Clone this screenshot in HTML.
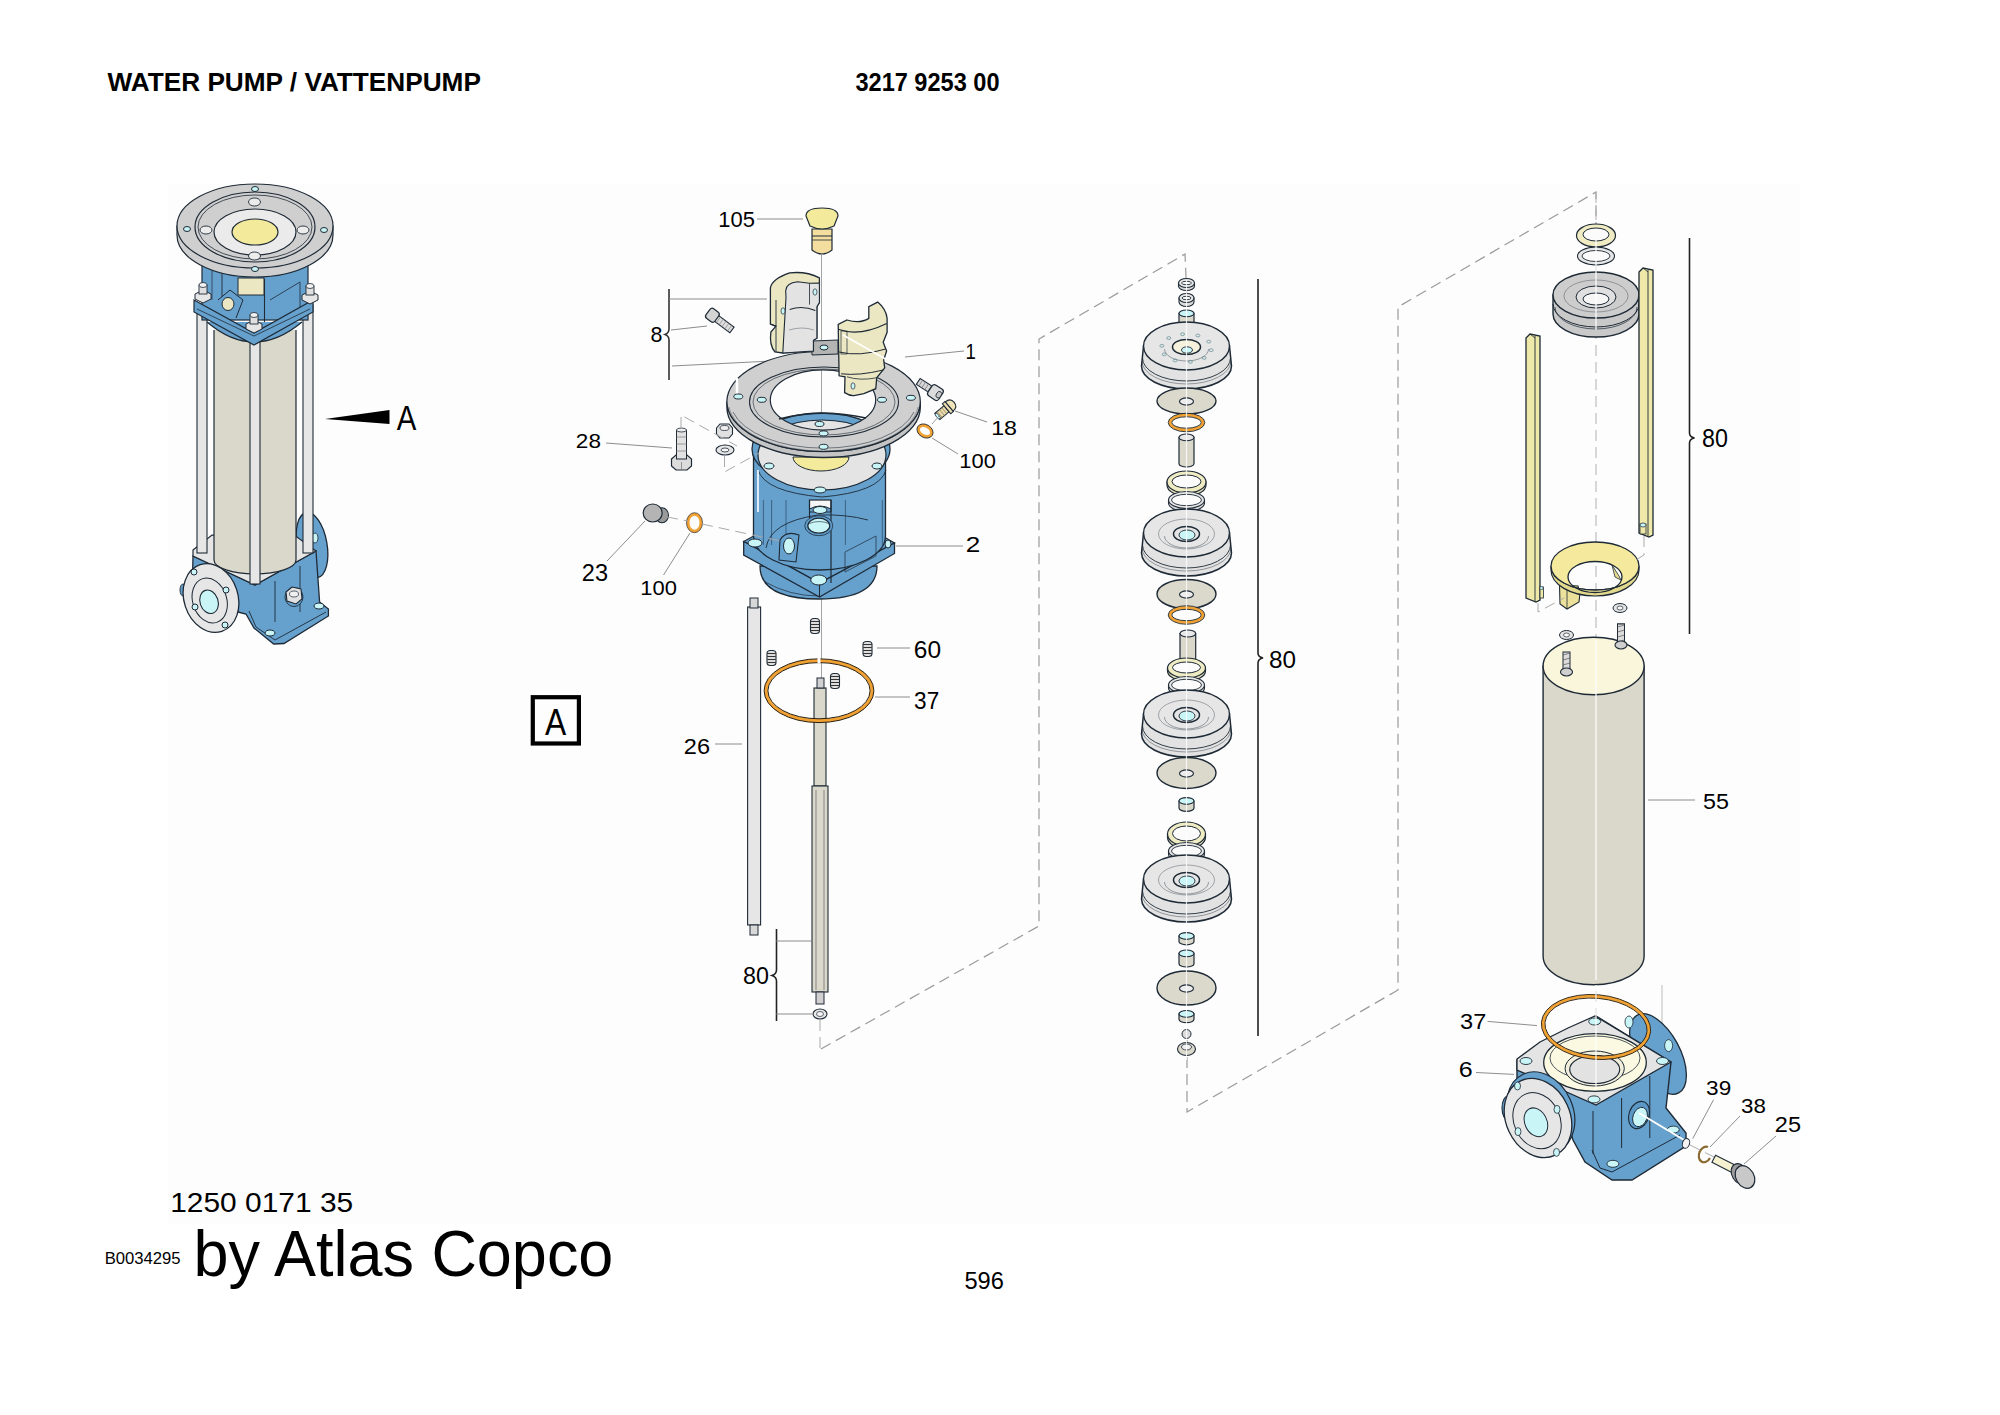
<!DOCTYPE html>
<html><head><meta charset="utf-8"><style>
html,body{margin:0;padding:0;background:#fff;}
body{width:2000px;height:1415px;overflow:hidden;position:relative;font-family:"Liberation Sans",sans-serif;}
svg{position:absolute;left:0;top:0;}
svg text{font-family:"Liberation Sans",sans-serif;fill:#000;}
</style></head><body>
<svg width="2000" height="1415" viewBox="0 0 2000 1415">
<rect x="168" y="184" width="1632" height="1040" fill="#fdfdfd"/>
<text transform="matrix(0.26195 0 0 0.25000 107.50 90.75)" font-size="100" font-weight="bold" >WATER PUMP / VATTENPUMP</text>
<text transform="matrix(0.23570 0 0 0.26056 855.43 90.74)" font-size="100" font-weight="bold" >3217 9253 00</text>
<text transform="matrix(0.29917 0 0 0.28451 170.21 1211.72)" font-size="100" font-weight="normal" >1250 0171 35</text>
<text transform="matrix(0.16667 0 0 0.16901 104.67 1264.43)" font-size="100" font-weight="normal" >B0034295</text>
<text transform="matrix(0.62973 0 0 0.64043 193.39 1275.55)" font-size="100" font-weight="normal" >by Atlas Copco</text>
<text transform="matrix(0.23671 0 0 0.24789 964.45 1289.35)" font-size="100" font-weight="normal" >596</text>
<polyline points="821,1049 1039,926 1039,339 1185,254 1187,300" fill="none" stroke="#9a9a9a" stroke-width="1.2" stroke-dasharray="11 6"/>
<polyline points="1187,1040 1187,1112 1398,990 1398,307 1596,192 1596,225" fill="none" stroke="#9a9a9a" stroke-width="1.2" stroke-dasharray="11 6"/>
<line x1="821.5" y1="255" x2="821.5" y2="680" stroke="#9a9a9a" stroke-width="0.9" />
<polyline points="820,1020 820,1049" fill="none" stroke="#aaaaaa" stroke-width="1" stroke-dasharray="11 6"/>
<g transform="rotate(-10 312 545)">
<ellipse cx="312" cy="545" rx="15" ry="33" fill="#66a1ce" stroke="#1e2a36" stroke-width="1.3" />
</g>
<ellipse cx="315" cy="538" rx="3" ry="5" fill="#c9f5f7" stroke="#1e2a36" stroke-width="0.8" />
<polygon points="193,556 192,600 238,612 246,614 254,628 273.7,644 284,643.5 328.4,616 328.4,609 319.6,602 316,551 255,585" fill="#66a1ce" stroke="#1e2a36" stroke-width="1.3" />
<polygon points="193,550 212,535 297,537 316,551 255,585 193,556" fill="#e6e6e6" stroke="#1e2a36" stroke-width="1.2" />
<path d="M249,611 L256,627 L275,640 L326,612" fill="none" stroke="#1e2a36" stroke-width="0.9" />
<line x1="275" y1="581" x2="275" y2="622" stroke="#1e2a36" stroke-width="0.9" />
<line x1="300" y1="566" x2="300" y2="612" stroke="#1e2a36" stroke-width="0.9" />
<ellipse cx="270" cy="633" rx="5" ry="3" fill="#c9f5f7" stroke="#1e2a36" stroke-width="1.0" />
<ellipse cx="319" cy="606" rx="5" ry="3" fill="#c9f5f7" stroke="#1e2a36" stroke-width="1.0" />
<ellipse cx="294" cy="597" rx="9" ry="9.5" fill="#66a1ce" stroke="#1e2a36" stroke-width="0.9" />
<polygon points="286,592 292,587 301,589 302,599 296,604 287,601" fill="#e2e2e2" stroke="#1e2a36" stroke-width="1.1" />
<ellipse cx="294" cy="594" rx="4.5" ry="3" fill="#f0f0f0" stroke="#1e2a36" stroke-width="0.7" />
<rect x="214" y="330" width="82" height="230" fill="#dad7cb" stroke="none" stroke-width="1.2" />
<path d="M214,330 L214,560 A41,14 0 0 0 296,560 L296,330" fill="#dad7cb" stroke="#1e2a36" stroke-width="1.2" />
<rect x="197" y="305" width="10" height="248" fill="#e6e6e6" stroke="#1e2a36" stroke-width="1.1" />
<rect x="303" y="305" width="10" height="248" fill="#e6e6e6" stroke="#1e2a36" stroke-width="1.1" />
<rect x="250" y="340" width="10" height="244" fill="#e6e6e6" stroke="#1e2a36" stroke-width="1.1" />
<ellipse cx="183" cy="590" rx="3" ry="6" fill="#66a1ce" stroke="#1e2a36" stroke-width="0.9" />
<g transform="rotate(-18 211 598)">
<ellipse cx="211" cy="598" rx="27" ry="35" fill="#e6e6e6" stroke="#1e2a36" stroke-width="1.3" />
<ellipse cx="209" cy="600" rx="17" ry="23" fill="none" stroke="#1e2a36" stroke-width="1" />
<ellipse cx="208" cy="601" rx="9" ry="12" fill="#c9f5f7" stroke="#1e2a36" stroke-width="1.1" />
</g>
<ellipse cx="194" cy="572" rx="3" ry="3" fill="#c9f5f7" stroke="#1e2a36" stroke-width="1.0" />
<ellipse cx="226" cy="590" rx="3" ry="3" fill="#c9f5f7" stroke="#1e2a36" stroke-width="1.0" />
<ellipse cx="195" cy="607" rx="3" ry="3" fill="#c9f5f7" stroke="#1e2a36" stroke-width="1.0" />
<ellipse cx="225" cy="625" rx="3" ry="3" fill="#c9f5f7" stroke="#1e2a36" stroke-width="1.0" />
<rect x="202" y="262" width="106" height="58" fill="#66a1ce" stroke="#1e2a36" stroke-width="1.2" />
<line x1="212" y1="268" x2="212" y2="300" stroke="#1e2a36" stroke-width="0.7" />
<line x1="222" y1="266" x2="222" y2="300" stroke="#1e2a36" stroke-width="0.9" />
<line x1="264.5" y1="279" x2="264.5" y2="330" stroke="#1e2a36" stroke-width="1.1" />
<path d="M270,300 L300,282 L300,316" fill="none" stroke="#1e2a36" stroke-width="0.8" />
<rect x="238" y="278" width="26" height="17" fill="#ebe7c2" stroke="#1e2a36" stroke-width="1" />
<path d="M207,322 Q254,362 302,322" fill="#66a1ce" stroke="#1e2a36" stroke-width="1.2" />
<polygon points="194,300 194,312 254,345 313,312 313,300 254,333" fill="#66a1ce" stroke="#1e2a36" stroke-width="1.2" />
<path d="M197,309 L254,336 L310,309" fill="none" stroke="#1e2a36" stroke-width="0.8" />
<path d="M218,300 L230,290 L243,300 L236,318" fill="#66a1ce" stroke="#1e2a36" stroke-width="1" />
<ellipse cx="228" cy="304" rx="6" ry="6.5" fill="#ebe7c2" stroke="#1e2a36" stroke-width="1" />
<polygon points="195,299 195,294 203,290 211,294 211,299 203,303" fill="#e6e6e6" stroke="#1e2a36" stroke-width="1" />
<rect x="199" y="285" width="8" height="9" fill="#e0e0e0" stroke="#1e2a36" stroke-width="0.9" />
<ellipse cx="203" cy="285" rx="4" ry="2.5" fill="#f2f2f2" stroke="#1e2a36" stroke-width="0.8" />
<polygon points="246,329 246,324 254,320 262,324 262,329 254,333" fill="#e6e6e6" stroke="#1e2a36" stroke-width="1" />
<rect x="250" y="315" width="8" height="9" fill="#e0e0e0" stroke="#1e2a36" stroke-width="0.9" />
<ellipse cx="254" cy="315" rx="4" ry="2.5" fill="#f2f2f2" stroke="#1e2a36" stroke-width="0.8" />
<polygon points="302,300 302,295 310,291 318,295 318,300 310,304" fill="#e6e6e6" stroke="#1e2a36" stroke-width="1" />
<rect x="306" y="286" width="8" height="9" fill="#e0e0e0" stroke="#1e2a36" stroke-width="0.9" />
<ellipse cx="310" cy="286" rx="4" ry="2.5" fill="#f2f2f2" stroke="#1e2a36" stroke-width="0.8" />
<path d="M177,226 L177,235 A78,42 0 0 0 333,235 L333,226 Z" fill="#cfcfcf" stroke="#1e2a36" stroke-width="1.2" />
<ellipse cx="255" cy="226" rx="78" ry="42" fill="#cfcfcf" stroke="#1e2a36" stroke-width="1.2" />
<ellipse cx="255" cy="227" rx="60" ry="35" fill="#cfcfcf" stroke="#1e2a36" stroke-width="1.2" />
<ellipse cx="255" cy="227" rx="57" ry="32" fill="none" stroke="#1e2a36" stroke-width="0.8" />
<ellipse cx="255" cy="232" rx="41" ry="23" fill="#ebebeb" stroke="#1e2a36" stroke-width="1.2" />
<ellipse cx="255" cy="232" rx="23" ry="13" fill="#f3ea9c" stroke="#1e2a36" stroke-width="1.2" />
<ellipse cx="255" cy="189" rx="3.5" ry="2.5" fill="#c9f5f7" stroke="#1e2a36" stroke-width="1.0" />
<ellipse cx="187" cy="229" rx="3.5" ry="2.5" fill="#c9f5f7" stroke="#1e2a36" stroke-width="1.0" />
<ellipse cx="324" cy="230" rx="3.5" ry="2.5" fill="#c9f5f7" stroke="#1e2a36" stroke-width="1.0" />
<ellipse cx="255" cy="269" rx="3.5" ry="2.5" fill="#c9f5f7" stroke="#1e2a36" stroke-width="1.0" />
<ellipse cx="254.5" cy="202" rx="6" ry="4" fill="#ececec" stroke="#1e2a36" stroke-width="0.9" />
<ellipse cx="206" cy="230" rx="6" ry="4" fill="#ececec" stroke="#1e2a36" stroke-width="0.9" />
<ellipse cx="303" cy="230" rx="6" ry="4" fill="#ececec" stroke="#1e2a36" stroke-width="0.9" />
<ellipse cx="254.5" cy="256" rx="6" ry="4" fill="#ececec" stroke="#1e2a36" stroke-width="0.9" />
<polygon points="325,419 389.5,410 389.5,424" fill="#000" stroke="none" stroke-width="1.2" />
<text transform="matrix(0.29394 0 0 0.34203 396.70 429.70)" font-size="100" font-weight="normal" >A</text>
<path d="M812,229 L812,250 Q822,258 832,250 L832,229 Z" fill="#f3dea0" stroke="#1e2a36" stroke-width="1.2" />
<line x1="812" y1="236" x2="832" y2="236" stroke="#1e2a36" stroke-width="1" />
<line x1="812" y1="240" x2="832" y2="240" stroke="#1e2a36" stroke-width="0.8" />
<path d="M806,216 Q806,208 822,208 Q838,208 838,216 L834,226 Q822,232 810,226 Z" fill="#f3ea9c" stroke="#1e2a36" stroke-width="1.2" />
<text transform="matrix(0.21935 0 0 0.22535 718.25 226.77)" font-size="100" font-weight="normal" >105</text>
<polyline points="757,219 803,219" fill="none" stroke="#808080" stroke-width="0.9"/>
<g transform="rotate(37 720 321)">
<rect x="713" y="317.5" width="22" height="7" fill="#dedede" stroke="#1e2a36" stroke-width="1.1" />
<line x1="718.0" y1="317.5" x2="718.0" y2="324.5" stroke="#888" stroke-width="0.7" />
<line x1="721.5" y1="317.5" x2="721.5" y2="324.5" stroke="#888" stroke-width="0.7" />
<line x1="725.0" y1="317.5" x2="725.0" y2="324.5" stroke="#888" stroke-width="0.7" />
<line x1="728.5" y1="317.5" x2="728.5" y2="324.5" stroke="#888" stroke-width="0.7" />
<line x1="732.0" y1="317.5" x2="732.0" y2="324.5" stroke="#888" stroke-width="0.7" />
<rect x="705" y="315" width="11" height="12" fill="#d4d4d4" stroke="#1e2a36" stroke-width="1.2" rx="3" ry="3"/>
</g>
<path d="M669,289 L669,329 Q669,333 665,334.5 Q669,336 669,340 L669,380" fill="none" stroke="#333" stroke-width="1.6" />
<polyline points="669,299 767,299" fill="none" stroke="#808080" stroke-width="0.9"/>
<polyline points="672,366 812,359" fill="none" stroke="#808080" stroke-width="0.9"/>
<polyline points="671,330 707,326" fill="none" stroke="#808080" stroke-width="0.9"/>
<text transform="matrix(0.21489 0 0 0.22535 650.44 341.97)" font-size="100" font-weight="normal" >8</text>
<path d="M760,566 Q760,599 819,599 Q877,599 877,566 Z" fill="#66a1ce" stroke="#1e2a36" stroke-width="1.3" />
<path d="M765,582 Q790,596 819,596" fill="none" stroke="#1e2a36" stroke-width="0.7" />
<polygon points="743.7,541.5 819.5,500 894.5,543 819.5,583" fill="#66a1ce" stroke="#1e2a36" stroke-width="1.2" />
<polygon points="743.7,541.5 819.5,583 894.5,543 894.5,553.5 819.5,597 743.7,555" fill="#66a1ce" stroke="#1e2a36" stroke-width="1.3" />
<line x1="819.5" y1="583" x2="819.5" y2="597" stroke="#1e2a36" stroke-width="1.1" />
<path d="M753.5,449 L753.5,536 A66,34 0 0 0 885.5,536 L885.5,449 Z" fill="#66a1ce" stroke="#1e2a36" stroke-width="1.3" />
<ellipse cx="821" cy="449" rx="69" ry="36" fill="#66a1ce" stroke="#1e2a36" stroke-width="1.3" />
<ellipse cx="822" cy="455" rx="64" ry="35" fill="#e4e4e4" stroke="#1e2a36" stroke-width="1.2" />
<path d="M793,457 A28,14 0 0 0 849,457 Z" fill="#f3ea9c" stroke="#1e2a36" stroke-width="1" />
<ellipse cx="769" cy="466" rx="5" ry="3" fill="#c9f5f7" stroke="#1e2a36" stroke-width="1.0" />
<ellipse cx="877" cy="466" rx="5" ry="3" fill="#c9f5f7" stroke="#1e2a36" stroke-width="1.0" />
<ellipse cx="820" cy="490" rx="6" ry="3" fill="#c9f5f7" stroke="#1e2a36" stroke-width="1.0" />
<path d="M758,470 Q765,492 822,497 Q880,492 886,470" fill="none" stroke="#1e2a36" stroke-width="0.9" />
<rect x="809.5" y="500" width="21.5" height="9" fill="#f6f6f6" stroke="#1e2a36" stroke-width="1.2" />
<path d="M809.5,509 Q820,503 831,509 L831,512 L809.5,512 Z" fill="#66a1ce" stroke="#1e2a36" stroke-width="1" />
<ellipse cx="820" cy="510" rx="7" ry="3.5" fill="#c9f5f7" stroke="#1e2a36" stroke-width="1.0" />
<line x1="763.4" y1="500" x2="763.4" y2="545" stroke="#2a4662" stroke-width="0.7" />
<line x1="771.6" y1="500" x2="771.6" y2="545" stroke="#2a4662" stroke-width="0.7" />
<line x1="786" y1="500" x2="786" y2="545" stroke="#2a4662" stroke-width="0.7" />
<line x1="845.4" y1="500" x2="845.4" y2="545" stroke="#2a4662" stroke-width="0.7" />
<line x1="882.3" y1="500" x2="882.3" y2="545" stroke="#2a4662" stroke-width="0.7" />
<line x1="809.5" y1="500" x2="809.5" y2="520" stroke="#1e2a36" stroke-width="1.1" />
<line x1="831" y1="500" x2="831" y2="583" stroke="#1e2a36" stroke-width="1.2" />
<path d="M766,548 Q770,522 818,515 Q846,514 868,520" fill="none" stroke="#1e2a36" stroke-width="0.9" />
<ellipse cx="818.8" cy="525.7" rx="14" ry="10" fill="#5f9dcd" stroke="#1e2a36" stroke-width="0.8" />
<ellipse cx="818.8" cy="525.7" rx="11" ry="7.5" fill="#c9f5f7" stroke="#1e2a36" stroke-width="1.2" />
<path d="M808,524 Q819,519 830,524" fill="none" stroke="#1e2a36" stroke-width="0.6" />
<path d="M779,560 L780,540 Q786,530 799,535 L796,562 Z" fill="#66a1ce" stroke="#1e2a36" stroke-width="1.1" />
<ellipse cx="789" cy="546" rx="5.5" ry="8" fill="#c9f5f7" stroke="#1e2a36" stroke-width="1.0" />
<ellipse cx="755" cy="543" rx="7" ry="4" fill="#c9f5f7" stroke="#1e2a36" stroke-width="1.0" />
<ellipse cx="818.7" cy="580" rx="8" ry="5" fill="#c9f5f7" stroke="#1e2a36" stroke-width="1.0" />
<ellipse cx="888" cy="544" rx="3" ry="4" fill="#c9f5f7" stroke="#1e2a36" stroke-width="1.0" />
<path d="M845,572 L845,552 L876,536 L876,556 Z" fill="none" stroke="#1e2a36" stroke-width="0.7" />
<line x1="758" y1="470" x2="758" y2="512" stroke="#ffffff" stroke-width="2" stroke-opacity="0.8"/>
<text transform="matrix(0.26087 0 0 0.21429 965.70 552.00)" font-size="100" font-weight="normal" >2</text>
<polyline points="896,546 963,546" fill="none" stroke="#808080" stroke-width="0.9"/>
<path d="M726.9,401.5 A96.7,50 0 0 0 920.3,401.5 L920.3,407.5 A96.7,50 0 0 1 726.9,407.5 Z" fill="#c4c4c4" stroke="#1e2a36" stroke-width="1.3" />
<path d="M726.9,401.5 A96.7,50 0 1 0 920.3,401.5 A96.7,50 0 1 0 726.9,401.5 Z M770.3,400 A52.7,30 0 1 1 875.7,400 A52.7,30 0 1 1 770.3,400 Z" fill="#cfcfcf" stroke="#1e2a36" stroke-width="1.2" fill-rule="evenodd"/>
<path d="M733,412 A93,47 0 0 0 914,412" fill="none" stroke="#1e2a36" stroke-width="0.7" stroke-opacity="0.8"/>
<path d="M729,407 A95,49 0 0 0 918,407" fill="none" stroke="#1e2a36" stroke-width="0.6" stroke-opacity="0.6"/>
<ellipse cx="824" cy="402" rx="74.5" ry="35" fill="none" stroke="#1e2a36" stroke-width="1.1" />
<polygon points="812,341 838,340 838,354 812,355" fill="#b4b4b4" stroke="#1e2a36" stroke-width="1.0" />
<ellipse cx="824" cy="347.5" rx="4" ry="2.5" fill="#c9f5f7" stroke="#1e2a36" stroke-width="1.0" />
<line x1="737" y1="378" x2="737" y2="396" stroke="#ffffff" stroke-width="2.5" />
<ellipse cx="824" cy="402" rx="71" ry="33" fill="none" stroke="#1e2a36" stroke-width="0.6" />
<ellipse cx="738.3" cy="396.5" rx="4.5" ry="2.5" fill="#c9f5f7" stroke="#1e2a36" stroke-width="1.0" />
<ellipse cx="761.8" cy="399.8" rx="4.5" ry="2.5" fill="#c9f5f7" stroke="#1e2a36" stroke-width="1.0" />
<ellipse cx="819.5" cy="424" rx="4.5" ry="2.5" fill="#c9f5f7" stroke="#1e2a36" stroke-width="1.0" />
<ellipse cx="823.6" cy="433.4" rx="4.5" ry="2.5" fill="#c9f5f7" stroke="#1e2a36" stroke-width="1.0" />
<ellipse cx="823.6" cy="446.8" rx="4.5" ry="2.5" fill="#c9f5f7" stroke="#1e2a36" stroke-width="1.0" />
<ellipse cx="882" cy="399.8" rx="4.5" ry="2.5" fill="#c9f5f7" stroke="#1e2a36" stroke-width="1.0" />
<ellipse cx="910.9" cy="397.8" rx="4.5" ry="2.5" fill="#c9f5f7" stroke="#1e2a36" stroke-width="1.0" />
<path d="M779,419 Q821,408 866,418" fill="none" stroke="#1e2a36" stroke-width="1.4" />
<path d="M770.4,300 L770.4,287.8 Q772,279 789.7,272.9 Q806,271 819.4,277.9 L819.4,302.6 L816.9,306.6 L816.9,338.2 L813.4,340.2 L813.4,351 L782.8,353 L775,352 Q769,345 770.9,332 L775.8,326.3 L770.4,324 Z" fill="#ebe7c2" stroke="#1e2a36" stroke-width="1.3" />
<path d="M786,297.6 L785.7,290.7 Q786,283 797.6,281.8 L809.5,283.3 L819.4,283 L819.4,302.6 L816.9,306.6 L816.9,338.2 L813.4,340.2 L813.4,351 L782.8,353 Z" fill="#e3e3e3" stroke="#1e2a36" stroke-width="1.1" />
<path d="M789.7,309.5 Q802,305 815.4,310.5" fill="none" stroke="#1e2a36" stroke-width="1.1" />
<path d="M789,330 Q802,326 814,330" fill="none" stroke="#1e2a36" stroke-width="0.6" stroke-opacity="0.6"/>
<line x1="809.5" y1="283.3" x2="809.5" y2="304.6" stroke="#1e2a36" stroke-width="0.8" />
<line x1="776" y1="300" x2="776" y2="352" stroke="#1e2a36" stroke-width="0.9" />
<path d="M770.4,324 L776,326" fill="none" stroke="#1e2a36" stroke-width="1" />
<ellipse cx="783" cy="311" rx="2" ry="3.2" fill="#c9f5f7" stroke="#1e2a36" stroke-width="0.7" />
<ellipse cx="815" cy="292" rx="2" ry="3.2" fill="#c9f5f7" stroke="#1e2a36" stroke-width="0.7" />
<path d="M838.2,324.4 L839.1,375.8 L845,376.8 L844.6,392.6 Q850,396 854,395.6 L863.9,393.6 L875.8,388.7 L876.7,377.8 L884.7,367.9 L883.7,360 L886.6,351 L883.2,342.2 L887.1,332.3 L887.1,318.4 Q886,309 877.7,302.1 L868.8,306.6 L868.8,318.4 Q860,324 847,320 Z" fill="#ebe7c2" stroke="#1e2a36" stroke-width="1.3" />
<path d="M838.2,329.3 Q859,337 886.7,323.4" fill="none" stroke="#1e2a36" stroke-width="1.1" />
<path d="M839.1,352 Q859,357 885.7,349" fill="none" stroke="#1e2a36" stroke-width="1.0" />
<path d="M841.1,373.8 Q859,376 883.7,369.9" fill="none" stroke="#1e2a36" stroke-width="1.0" />
<rect x="841" y="331" width="6" height="23" fill="none" stroke="#1e2a36" stroke-width="0.7" />
<path d="M847,376.8 Q860,381 876.7,377.8" fill="none" stroke="#1e2a36" stroke-width="0.8" />
<ellipse cx="853" cy="386" rx="2" ry="3.2" fill="#c9f5f7" stroke="#1e2a36" stroke-width="0.7" />
<line x1="843" y1="335" x2="905" y2="370" stroke="#ffffff" stroke-width="1.6" />
<g transform="rotate(33 930 389)">
<rect x="916" y="385.5" width="16" height="7" fill="#d8d8d8" stroke="#1e2a36" stroke-width="1.1" />
<line x1="919.0" y1="385.5" x2="919.0" y2="392.5" stroke="#777" stroke-width="0.7" />
<line x1="922.5" y1="385.5" x2="922.5" y2="392.5" stroke="#777" stroke-width="0.7" />
<line x1="926.0" y1="385.5" x2="926.0" y2="392.5" stroke="#777" stroke-width="0.7" />
<line x1="929.5" y1="385.5" x2="929.5" y2="392.5" stroke="#777" stroke-width="0.7" />
<rect x="930" y="382.5" width="13" height="13" fill="#dcdcdc" stroke="#1e2a36" stroke-width="1.2" rx="3" ry="3"/>
<ellipse cx="940.5" cy="389" rx="2.5" ry="3.5" fill="#c8c8c8" stroke="#1e2a36" stroke-width="0.8" />
</g>
<text transform="matrix(0.18605 0 0 0.21739 965.51 359.00)" font-size="100" font-weight="normal" >1</text>
<polyline points="905,357 964,351" fill="none" stroke="#808080" stroke-width="0.9"/>
<g transform="rotate(-40 945 410)">
<rect x="935" y="406" width="12" height="8" fill="#eadcae" stroke="#1e2a36" stroke-width="1.1" />
<line x1="938" y1="406" x2="938" y2="414" stroke="#8a7a50" stroke-width="0.7" />
<line x1="941" y1="406" x2="941" y2="414" stroke="#8a7a50" stroke-width="0.7" />
<line x1="944" y1="406" x2="944" y2="414" stroke="#8a7a50" stroke-width="0.7" />
<rect x="947" y="403.5" width="3.5" height="13" fill="#eadcae" stroke="#1e2a36" stroke-width="1.0" />
<path d="M950.5,404 Q957,404 957,410 Q957,416 950.5,416 Z" fill="#efe3b8" stroke="#1e2a36" stroke-width="1.1" />
<ellipse cx="935.5" cy="410" rx="1.5" ry="3.5" fill="#c9f5f7" stroke="#1e2a36" stroke-width="0.7" />
</g>
<line x1="932" y1="424" x2="939" y2="416" stroke="#888" stroke-width="0.8" />
<text transform="matrix(0.23232 0 0 0.21127 991.14 434.79)" font-size="100" font-weight="normal" >18</text>
<polyline points="955,411 987,422" fill="none" stroke="#808080" stroke-width="0.9"/>
<ellipse cx="925" cy="431" rx="7" ry="5" fill="none" stroke="#f0a132" stroke-width="3" transform="rotate(30 925 431)"/>
<ellipse cx="925" cy="431" rx="8.5" ry="6.5" fill="none" stroke="#1e2a36" stroke-width="0.8" transform="rotate(30 925 431)"/>
<text transform="matrix(0.21935 0 0 0.21127 959.25 467.79)" font-size="100" font-weight="normal" >100</text>
<polyline points="932,438 958,454" fill="none" stroke="#808080" stroke-width="0.9"/>
<polygon points="671.5,459 676,455 687,455 691.5,459 691.5,466 687,470 676,470 671.5,466" fill="#dcdcdc" stroke="#1e2a36" stroke-width="1.2" />
<line x1="681.5" y1="462" x2="681.5" y2="470" stroke="#777" stroke-width="0.7" />
<rect x="676.5" y="430" width="10" height="29" fill="#e2e2e2" stroke="#1e2a36" stroke-width="1" />
<line x1="676.5" y1="437" x2="686.5" y2="437" stroke="#888" stroke-width="0.8" />
<line x1="676.5" y1="444" x2="686.5" y2="444" stroke="#888" stroke-width="0.8" />
<line x1="676.5" y1="451" x2="686.5" y2="451" stroke="#888" stroke-width="0.8" />
<ellipse cx="681.5" cy="430" rx="5" ry="2" fill="#eee" stroke="#1e2a36" stroke-width="0.8" />
<text transform="matrix(0.22549 0 0 0.21127 575.87 447.79)" font-size="100" font-weight="normal" >28</text>
<polyline points="606,443 672,448" fill="none" stroke="#808080" stroke-width="0.9"/>
<polygon points="716.5,428 720,424 729,424 732.5,428 732.5,434 729,438 720,438 716.5,434" fill="#e0e0e0" stroke="#1e2a36" stroke-width="1.1" />
<ellipse cx="724.5" cy="428" rx="4.5" ry="2.5" fill="#f0f0f0" stroke="#1e2a36" stroke-width="0.8" />
<ellipse cx="725" cy="450" rx="9" ry="5" fill="#e6e6e6" stroke="#1e2a36" stroke-width="1.1" />
<ellipse cx="725" cy="450" rx="4" ry="2" fill="#f6f6f6" stroke="#1e2a36" stroke-width="0.8" />
<polyline points="681,428 681,415 737,446" fill="none" stroke="#aaa" stroke-width="1" stroke-dasharray="11 6"/>
<polyline points="724.5,456 724.5,472 759,453" fill="none" stroke="#aaa" stroke-width="1" stroke-dasharray="11 6"/>
<ellipse cx="662" cy="515.3" rx="6.5" ry="7.5" fill="#9a9a9a" stroke="#1e2a36" stroke-width="1.1" />
<ellipse cx="652.7" cy="513" rx="9.5" ry="9" fill="#b4b4b4" stroke="#1e2a36" stroke-width="1.2" />
<text transform="matrix(0.23529 0 0 0.23944 581.82 580.76)" font-size="100" font-weight="normal" >23</text>
<polyline points="607,561 645,521" fill="none" stroke="#808080" stroke-width="0.9"/>
<ellipse cx="694.5" cy="522.7" rx="6.5" ry="8.5" fill="none" stroke="#f0a132" stroke-width="3" />
<ellipse cx="694.5" cy="522.7" rx="8" ry="10" fill="none" stroke="#1e2a36" stroke-width="0.7" />
<text transform="matrix(0.21935 0 0 0.21127 640.25 594.79)" font-size="100" font-weight="normal" >100</text>
<polyline points="663.5,575 690,533" fill="none" stroke="#808080" stroke-width="0.9"/>
<polyline points="667,517 688,521" fill="none" stroke="#aaa" stroke-width="1" stroke-dasharray="11 6"/>
<polyline points="702,524 785,542" fill="none" stroke="#aaa" stroke-width="1" stroke-dasharray="11 6"/>
<rect x="747.6" y="607" width="13" height="318" fill="#e6e6e6" stroke="#1e2a36" stroke-width="1.1" />
<rect x="750" y="598" width="8" height="10" fill="#d8d8d8" stroke="#1e2a36" stroke-width="1" />
<rect x="750" y="925" width="8" height="10" fill="#d8d8d8" stroke="#1e2a36" stroke-width="1" />
<text transform="matrix(0.23529 0 0 0.22535 683.82 753.77)" font-size="100" font-weight="normal" >26</text>
<polyline points="715,744 742,744" fill="none" stroke="#808080" stroke-width="0.9"/>
<rect x="810.5" y="618.5" width="9" height="15" fill="#e6e6e6" stroke="#1e2a36" stroke-width="1.1" rx="3.5" ry="3"/>
<line x1="810.7" y1="621.5" x2="819.3" y2="621.5" stroke="#333" stroke-width="1.1" />
<line x1="810.7" y1="624.5" x2="819.3" y2="624.5" stroke="#333" stroke-width="1.1" />
<line x1="810.7" y1="627.5" x2="819.3" y2="627.5" stroke="#333" stroke-width="1.1" />
<line x1="810.7" y1="630.5" x2="819.3" y2="630.5" stroke="#333" stroke-width="1.1" />
<rect x="767.0" y="650.5" width="9" height="15" fill="#e6e6e6" stroke="#1e2a36" stroke-width="1.1" rx="3.5" ry="3"/>
<line x1="767.2" y1="653.5" x2="775.8" y2="653.5" stroke="#333" stroke-width="1.1" />
<line x1="767.2" y1="656.5" x2="775.8" y2="656.5" stroke="#333" stroke-width="1.1" />
<line x1="767.2" y1="659.5" x2="775.8" y2="659.5" stroke="#333" stroke-width="1.1" />
<line x1="767.2" y1="662.5" x2="775.8" y2="662.5" stroke="#333" stroke-width="1.1" />
<rect x="863.0" y="641.5" width="9" height="15" fill="#e6e6e6" stroke="#1e2a36" stroke-width="1.1" rx="3.5" ry="3"/>
<line x1="863.2" y1="644.5" x2="871.8" y2="644.5" stroke="#333" stroke-width="1.1" />
<line x1="863.2" y1="647.5" x2="871.8" y2="647.5" stroke="#333" stroke-width="1.1" />
<line x1="863.2" y1="650.5" x2="871.8" y2="650.5" stroke="#333" stroke-width="1.1" />
<line x1="863.2" y1="653.5" x2="871.8" y2="653.5" stroke="#333" stroke-width="1.1" />
<rect x="830.5" y="673.5" width="9" height="15" fill="#e6e6e6" stroke="#1e2a36" stroke-width="1.1" rx="3.5" ry="3"/>
<line x1="830.7" y1="676.5" x2="839.3" y2="676.5" stroke="#333" stroke-width="1.1" />
<line x1="830.7" y1="679.5" x2="839.3" y2="679.5" stroke="#333" stroke-width="1.1" />
<line x1="830.7" y1="682.5" x2="839.3" y2="682.5" stroke="#333" stroke-width="1.1" />
<line x1="830.7" y1="685.5" x2="839.3" y2="685.5" stroke="#333" stroke-width="1.1" />
<text transform="matrix(0.24510 0 0 0.23944 913.77 657.76)" font-size="100" font-weight="normal" >60</text>
<polyline points="877,648 910,648" fill="none" stroke="#808080" stroke-width="0.9"/>
<rect x="814" y="688" width="12" height="98" fill="#dad7cb" stroke="#1e2a36" stroke-width="1.1" />
<rect x="817" y="678" width="7" height="10" fill="#d0d0d0" stroke="#1e2a36" stroke-width="1" />
<rect x="812" y="786" width="16" height="206" fill="#dad7cb" stroke="#1e2a36" stroke-width="1.1" />
<line x1="816" y1="790" x2="816" y2="990" stroke="#666" stroke-width="0.7" />
<line x1="824" y1="790" x2="824" y2="990" stroke="#666" stroke-width="0.7" />
<rect x="816" y="992" width="8" height="12" fill="#d0d0d0" stroke="#1e2a36" stroke-width="1" />
<ellipse cx="820" cy="1014" rx="7" ry="5" fill="#e8e8e8" stroke="#1e2a36" stroke-width="1.1" />
<ellipse cx="820" cy="1014" rx="3.5" ry="2.5" fill="#f6f6f6" stroke="#1e2a36" stroke-width="0.7" />
<ellipse cx="819" cy="690.7" rx="53" ry="30" fill="none" stroke="#f0a132" stroke-width="3.4" />
<ellipse cx="819" cy="690.7" rx="54.9" ry="31.9" fill="none" stroke="#2a2010" stroke-width="1.0" />
<ellipse cx="819" cy="690.7" rx="51.1" ry="28.1" fill="none" stroke="#2a2010" stroke-width="1.0" />
<line x1="819" y1="655" x2="819" y2="663" stroke="#fdfdfd" stroke-width="3" />
<text transform="matrix(0.22549 0 0 0.23944 914.10 708.76)" font-size="100" font-weight="normal" >37</text>
<polyline points="875,697 910,697" fill="none" stroke="#808080" stroke-width="0.9"/>
<path d="M776.5,929 L776.5,970 Q776.5,974 772,975.5 Q776.5,977 776.5,981 L776.5,1021" fill="none" stroke="#222" stroke-width="1.6" />
<polyline points="776,941 812,941" fill="none" stroke="#808080" stroke-width="0.9"/>
<polyline points="776,1014 812,1014" fill="none" stroke="#808080" stroke-width="0.9"/>
<text transform="matrix(0.23301 0 0 0.23944 743.07 983.76)" font-size="100" font-weight="normal" >80</text>
<rect x="532.8" y="697.2" width="46.1" height="46.3" fill="none" stroke="#000" stroke-width="4.2" />
<text transform="matrix(0.31818 0 0 0.37246 544.90 734.70)" font-size="100" font-weight="normal" >A</text>
<path d="M1178.5,283 L1178.5,286 A8,4.5 0 0 0 1194.5,286 L1194.5,283 Z" fill="#dadada" stroke="#1e2a36" stroke-width="1.1" />
<ellipse cx="1186.5" cy="283" rx="8" ry="4.5" fill="#e6e6e6" stroke="#1e2a36" stroke-width="1.1" />
<ellipse cx="1186.5" cy="283" rx="5" ry="1.7000000000000002" fill="#fbfbfb" stroke="#1e2a36" stroke-width="0.9" />
<path d="M1179.0,298 L1179.0,302 A7.5,4.5 0 0 0 1194.0,302 L1194.0,298 Z" fill="#dadada" stroke="#1e2a36" stroke-width="1.1" />
<ellipse cx="1186.5" cy="298" rx="7.5" ry="4.5" fill="#e6e6e6" stroke="#1e2a36" stroke-width="1.1" />
<ellipse cx="1186.5" cy="298" rx="4.5" ry="1.7000000000000002" fill="#fbfbfb" stroke="#1e2a36" stroke-width="0.9" />
<path d="M1179,313.375 L1179,322.625 A7.5,3.375 0 0 0 1194,322.625 L1194,313.375 Z" fill="#dad7cb" stroke="#1e2a36" stroke-width="1.2" />
<ellipse cx="1186.5" cy="313.375" rx="7.5" ry="3.375" fill="#c9f5f7" stroke="#1e2a36" stroke-width="1.1" />
<path d="M1143.5,346 L1141.5,366 A45,23 0 0 0 1231.5,366 L1229.5,346 Z" fill="#e2e2e2" stroke="#1e2a36" stroke-width="1.5" />
<path d="M1142.5,358 A44,23 0 0 0 1230.5,358" fill="none" stroke="#1e2a36" stroke-width="0.9" />
<path d="M1142.0,361 A44.5,23 0 0 0 1231.0,361" fill="none" stroke="#1e2a36" stroke-width="0.6" stroke-opacity="0.7"/>
<ellipse cx="1186.5" cy="346" rx="43" ry="24" fill="#e6e6e6" stroke="#1e2a36" stroke-width="1.4" />
<path d="M1164.5,349 A22,12 0 0 0 1208.5,349" fill="none" stroke="#1e2a36" stroke-width="0.6" stroke-opacity="0.7"/>
<ellipse cx="1211.1922085148785" cy="350.19008251056323" rx="2" ry="1.4" fill="none" stroke="#5a8a90" stroke-width="0.7" />
<ellipse cx="1204.1776695296637" cy="357.8994949366117" rx="2" ry="1.4" fill="none" stroke="#5a8a90" stroke-width="0.7" />
<ellipse cx="1190.4108616260057" cy="361.8276367683319" rx="2" ry="1.4" fill="none" stroke="#5a8a90" stroke-width="0.7" />
<ellipse cx="1175.1502375065113" cy="360.47409133863715" rx="2" ry="1.4" fill="none" stroke="#5a8a90" stroke-width="0.7" />
<ellipse cx="1164.2248368952908" cy="354.35586699635365" rx="2" ry="1.4" fill="none" stroke="#5a8a90" stroke-width="0.7" />
<ellipse cx="1161.8077914851215" cy="345.80991748943677" rx="2" ry="1.4" fill="none" stroke="#5a8a90" stroke-width="0.7" />
<ellipse cx="1168.8223304703363" cy="338.1005050633883" rx="2" ry="1.4" fill="none" stroke="#5a8a90" stroke-width="0.7" />
<ellipse cx="1182.5891383739943" cy="334.1723632316681" rx="2" ry="1.4" fill="none" stroke="#5a8a90" stroke-width="0.7" />
<ellipse cx="1197.8497624934887" cy="335.52590866136285" rx="2" ry="1.4" fill="none" stroke="#5a8a90" stroke-width="0.7" />
<ellipse cx="1208.7751631047092" cy="341.64413300364635" rx="2" ry="1.4" fill="none" stroke="#5a8a90" stroke-width="0.7" />
<ellipse cx="1186.5" cy="347" rx="14" ry="7.5" fill="#f4f2dc" stroke="#1e2a36" stroke-width="1.5" />
<ellipse cx="1187.0" cy="350" rx="5.5" ry="3.2" fill="#c9f5f7" stroke="#1e2a36" stroke-width="0.9" />
<ellipse cx="1186.5" cy="401" rx="29.5" ry="13" fill="#dbd8cc" stroke="#1e2a36" stroke-width="1.4" />
<ellipse cx="1186.5" cy="401.5" rx="7" ry="3.6" fill="#ececec" stroke="#1e2a36" stroke-width="1.1" />
<ellipse cx="1186.5" cy="422.5" rx="16.5" ry="7.5" fill="none" stroke="#f0a132" stroke-width="3.2" />
<ellipse cx="1186.5" cy="422.5" rx="18.3" ry="9.3" fill="none" stroke="#1e2a36" stroke-width="0.9" />
<ellipse cx="1186.5" cy="422.5" rx="14.7" ry="5.7" fill="none" stroke="#1e2a36" stroke-width="0.9" />
<path d="M1179,437.375 L1179,463.625 A7.5,3.375 0 0 0 1194,463.625 L1194,437.375 Z" fill="#dad7cb" stroke="#1e2a36" stroke-width="1.2" />
<ellipse cx="1186.5" cy="437.375" rx="7.5" ry="3.375" fill="#e8e8e8" stroke="#1e2a36" stroke-width="1.1" />
<path d="M1167.0,482 L1167.0,485 A19.5,11 0 0 0 1206.0,485 L1206.0,482 Z" fill="#e3dfb8" stroke="#1e2a36" stroke-width="1.2" />
<ellipse cx="1186.5" cy="482" rx="19.5" ry="11" fill="#efebc2" stroke="#1e2a36" stroke-width="1.2" />
<ellipse cx="1186.5" cy="481.5" rx="14.5" ry="6.5" fill="#fbfbfb" stroke="#1e2a36" stroke-width="1.0" />
<path d="M1168.5,500 L1168.5,503 A18,8.5 0 0 0 1204.5,503 L1204.5,500 Z" fill="#dadada" stroke="#1e2a36" stroke-width="1.1" />
<ellipse cx="1186.5" cy="500" rx="18" ry="8.5" fill="#e6e6e6" stroke="#1e2a36" stroke-width="1.1" />
<ellipse cx="1186.5" cy="500" rx="15" ry="5.7" fill="#fbfbfb" stroke="#1e2a36" stroke-width="0.9" />
<path d="M1143.5,533 L1141.5,553 A45,23 0 0 0 1231.5,553 L1229.5,533 Z" fill="#e2e2e2" stroke="#1e2a36" stroke-width="1.5" />
<path d="M1142.5,545 A44,23 0 0 0 1230.5,545" fill="none" stroke="#1e2a36" stroke-width="0.9" />
<path d="M1142.0,548 A44.5,23 0 0 0 1231.0,548" fill="none" stroke="#1e2a36" stroke-width="0.6" stroke-opacity="0.7"/>
<ellipse cx="1186.5" cy="533" rx="43" ry="24" fill="#e6e6e6" stroke="#1e2a36" stroke-width="1.4" />
<path d="M1164.5,536 A22,12 0 0 0 1208.5,536" fill="none" stroke="#1e2a36" stroke-width="0.6" stroke-opacity="0.7"/>
<ellipse cx="1186.5" cy="534" rx="28" ry="15" fill="none" stroke="#1e2a36" stroke-width="0.6" stroke-opacity="0.6"/>
<ellipse cx="1186.5" cy="534" rx="13" ry="7.5" fill="#e4e4e4" stroke="#1e2a36" stroke-width="1.5" />
<ellipse cx="1187.0" cy="535" rx="8" ry="5" fill="#c9f5f7" stroke="#1e2a36" stroke-width="0.9" />
<ellipse cx="1186.5" cy="594" rx="29.5" ry="14.5" fill="#dbd8cc" stroke="#1e2a36" stroke-width="1.4" />
<ellipse cx="1186.5" cy="594.5" rx="7" ry="3.6" fill="#ececec" stroke="#1e2a36" stroke-width="1.1" />
<ellipse cx="1186.5" cy="615" rx="16.5" ry="7.5" fill="none" stroke="#f0a132" stroke-width="3.2" />
<ellipse cx="1186.5" cy="615" rx="18.3" ry="9.3" fill="none" stroke="#1e2a36" stroke-width="0.9" />
<ellipse cx="1186.5" cy="615" rx="14.7" ry="5.7" fill="none" stroke="#1e2a36" stroke-width="0.9" />
<path d="M1180,633.5325 L1180,661.4675 A7.850000000000023,3.5325000000000104 0 0 0 1195.7,661.4675 L1195.7,633.5325 Z" fill="#dad7cb" stroke="#1e2a36" stroke-width="1.2" />
<ellipse cx="1187.85" cy="633.5325" rx="7.850000000000023" ry="3.5325000000000104" fill="#e8e8e8" stroke="#1e2a36" stroke-width="1.1" />
<path d="M1167.5,668 L1167.5,671 A19,10 0 0 0 1205.5,671 L1205.5,668 Z" fill="#e3dfb8" stroke="#1e2a36" stroke-width="1.2" />
<ellipse cx="1186.5" cy="668" rx="19" ry="10" fill="#efebc2" stroke="#1e2a36" stroke-width="1.2" />
<ellipse cx="1186.5" cy="667.5" rx="14" ry="5.5" fill="#fbfbfb" stroke="#1e2a36" stroke-width="1.0" />
<path d="M1168.5,685 L1168.5,688 A18,8.5 0 0 0 1204.5,688 L1204.5,685 Z" fill="#dadada" stroke="#1e2a36" stroke-width="1.1" />
<ellipse cx="1186.5" cy="685" rx="18" ry="8.5" fill="#e6e6e6" stroke="#1e2a36" stroke-width="1.1" />
<ellipse cx="1186.5" cy="685" rx="15" ry="5.7" fill="#fbfbfb" stroke="#1e2a36" stroke-width="0.9" />
<path d="M1143.5,714 L1141.5,734 A45,23 0 0 0 1231.5,734 L1229.5,714 Z" fill="#e2e2e2" stroke="#1e2a36" stroke-width="1.5" />
<path d="M1142.5,726 A44,23 0 0 0 1230.5,726" fill="none" stroke="#1e2a36" stroke-width="0.9" />
<path d="M1142.0,729 A44.5,23 0 0 0 1231.0,729" fill="none" stroke="#1e2a36" stroke-width="0.6" stroke-opacity="0.7"/>
<ellipse cx="1186.5" cy="714" rx="43" ry="24" fill="#e6e6e6" stroke="#1e2a36" stroke-width="1.4" />
<path d="M1164.5,717 A22,12 0 0 0 1208.5,717" fill="none" stroke="#1e2a36" stroke-width="0.6" stroke-opacity="0.7"/>
<ellipse cx="1186.5" cy="715" rx="28" ry="15" fill="none" stroke="#1e2a36" stroke-width="0.6" stroke-opacity="0.6"/>
<ellipse cx="1186.5" cy="715" rx="13" ry="7.5" fill="#e4e4e4" stroke="#1e2a36" stroke-width="1.5" />
<ellipse cx="1187.0" cy="716" rx="8" ry="5" fill="#c9f5f7" stroke="#1e2a36" stroke-width="0.9" />
<ellipse cx="1186.5" cy="773" rx="29.5" ry="15.5" fill="#dbd8cc" stroke="#1e2a36" stroke-width="1.4" />
<ellipse cx="1186.5" cy="773.5" rx="7" ry="3.6" fill="#ececec" stroke="#1e2a36" stroke-width="1.1" />
<path d="M1179,800.975 L1179,808.025 A7.5,3.375 0 0 0 1194,808.025 L1194,800.975 Z" fill="#dad7cb" stroke="#1e2a36" stroke-width="1.2" />
<ellipse cx="1186.5" cy="800.975" rx="7.5" ry="3.375" fill="#c9f5f7" stroke="#1e2a36" stroke-width="1.1" />
<path d="M1167.5,834 L1167.5,837 A19,12 0 0 0 1205.5,837 L1205.5,834 Z" fill="#e3dfb8" stroke="#1e2a36" stroke-width="1.2" />
<ellipse cx="1186.5" cy="834" rx="19" ry="12" fill="#efebc2" stroke="#1e2a36" stroke-width="1.2" />
<ellipse cx="1186.5" cy="833.5" rx="14" ry="7.5" fill="#fbfbfb" stroke="#1e2a36" stroke-width="1.0" />
<path d="M1168.5,851 L1168.5,854 A18,8.5 0 0 0 1204.5,854 L1204.5,851 Z" fill="#dadada" stroke="#1e2a36" stroke-width="1.1" />
<ellipse cx="1186.5" cy="851" rx="18" ry="8.5" fill="#e6e6e6" stroke="#1e2a36" stroke-width="1.1" />
<ellipse cx="1186.5" cy="851" rx="15" ry="5.7" fill="#fbfbfb" stroke="#1e2a36" stroke-width="0.9" />
<path d="M1143.5,879 L1141.5,899 A45,23 0 0 0 1231.5,899 L1229.5,879 Z" fill="#e2e2e2" stroke="#1e2a36" stroke-width="1.5" />
<path d="M1142.5,891 A44,23 0 0 0 1230.5,891" fill="none" stroke="#1e2a36" stroke-width="0.9" />
<path d="M1142.0,894 A44.5,23 0 0 0 1231.0,894" fill="none" stroke="#1e2a36" stroke-width="0.6" stroke-opacity="0.7"/>
<ellipse cx="1186.5" cy="879" rx="43" ry="24" fill="#e6e6e6" stroke="#1e2a36" stroke-width="1.4" />
<path d="M1164.5,882 A22,12 0 0 0 1208.5,882" fill="none" stroke="#1e2a36" stroke-width="0.6" stroke-opacity="0.7"/>
<ellipse cx="1186.5" cy="880" rx="28" ry="15" fill="none" stroke="#1e2a36" stroke-width="0.6" stroke-opacity="0.6"/>
<ellipse cx="1186.5" cy="880" rx="13" ry="7.5" fill="#e4e4e4" stroke="#1e2a36" stroke-width="1.5" />
<ellipse cx="1187.0" cy="881" rx="8" ry="5" fill="#c9f5f7" stroke="#1e2a36" stroke-width="0.9" />
<path d="M1179,935.975 L1179,941.425 A7.5,3.375 0 0 0 1194,941.425 L1194,935.975 Z" fill="#dad7cb" stroke="#1e2a36" stroke-width="1.2" />
<ellipse cx="1186.5" cy="935.975" rx="7.5" ry="3.375" fill="#c9f5f7" stroke="#1e2a36" stroke-width="1.1" />
<path d="M1179,953.375 L1179,963.625 A7.5,3.375 0 0 0 1194,963.625 L1194,953.375 Z" fill="#dad7cb" stroke="#1e2a36" stroke-width="1.2" />
<ellipse cx="1186.5" cy="953.375" rx="7.5" ry="3.375" fill="#c9f5f7" stroke="#1e2a36" stroke-width="1.1" />
<ellipse cx="1186.5" cy="988" rx="29.5" ry="17" fill="#dbd8cc" stroke="#1e2a36" stroke-width="1.4" />
<ellipse cx="1186.5" cy="988.5" rx="7" ry="3.6" fill="#ececec" stroke="#1e2a36" stroke-width="1.1" />
<path d="M1179,1013.875 L1179,1019.325 A7.5,3.375 0 0 0 1194,1019.325 L1194,1013.875 Z" fill="#dad7cb" stroke="#1e2a36" stroke-width="1.2" />
<ellipse cx="1186.5" cy="1013.875" rx="7.5" ry="3.375" fill="#c9f5f7" stroke="#1e2a36" stroke-width="1.1" />
<ellipse cx="1186.5" cy="1034" rx="4.5" ry="4.5" fill="#dcdcdc" stroke="#1e2a36" stroke-width="1" />
<ellipse cx="1186.5" cy="1049" rx="9" ry="6.5" fill="#dad7cb" stroke="#1e2a36" stroke-width="1.1" />
<ellipse cx="1186.5" cy="1047" rx="5" ry="3" fill="#f0f0f0" stroke="#1e2a36" stroke-width="0.8" />
<line x1="1186.5" y1="280" x2="1186.5" y2="1060" stroke="#ffffff" stroke-width="1.2" stroke-opacity="0.8"/>
<path d="M1258,279 L1258,653 Q1258,657 1263,658 Q1258,659 1258,663 L1258,1036" fill="none" stroke="#222" stroke-width="1.6" />
<text transform="matrix(0.24272 0 0 0.23944 1269.03 667.76)" font-size="100" font-weight="normal" >80</text>
<polyline points="1596,192 1596,1080" fill="none" stroke="#b0b0b0" stroke-width="1" stroke-dasharray="11 6"/>
<ellipse cx="1596" cy="235.5" rx="19.5" ry="11.5" fill="#efebc2" stroke="#1e2a36" stroke-width="1.2" />
<ellipse cx="1596" cy="234.5" rx="13" ry="6.5" fill="#fbfbfb" stroke="#1e2a36" stroke-width="1.0" />
<ellipse cx="1596" cy="256" rx="18.5" ry="9" fill="#e6e6e6" stroke="#1e2a36" stroke-width="1.1" />
<ellipse cx="1596" cy="256" rx="14" ry="5.5" fill="#fbfbfb" stroke="#1e2a36" stroke-width="0.9" />
<path d="M1553,295 L1553,314 A43,23 0 0 0 1639,314 L1639,295 Z" fill="#c9c9c9" stroke="#1e2a36" stroke-width="1.4" />
<path d="M1553,304 A43,23 0 0 0 1639,304" fill="none" stroke="#1e2a36" stroke-width="1.0" />
<path d="M1555,307 A41,22 0 0 0 1637,307" fill="none" stroke="#1e2a36" stroke-width="0.7" />
<ellipse cx="1596" cy="295" rx="43" ry="23" fill="#cdcdcd" stroke="#1e2a36" stroke-width="1.4" />
<ellipse cx="1596" cy="296" rx="32" ry="16" fill="none" stroke="#1e2a36" stroke-width="0.6" stroke-opacity="0.6"/>
<ellipse cx="1596" cy="297" rx="20" ry="11" fill="#e0e0e0" stroke="#1e2a36" stroke-width="1.0" />
<ellipse cx="1596" cy="299" rx="13" ry="6" fill="#f6f6f6" stroke="#1e2a36" stroke-width="1.0" />
<polygon points="1526,338 1530,334 1540,336 1540,600 1536,602 1526,598" fill="#eee9a8" stroke="#1e2a36" stroke-width="1.3" />
<line x1="1535" y1="336" x2="1535" y2="602" stroke="#1e2a36" stroke-width="0.9" />
<line x1="1530" y1="334" x2="1535" y2="338" stroke="#1e2a36" stroke-width="0.8" />
<polygon points="1639,272 1643,268 1653,270 1653,535 1649,537 1639,533" fill="#eee9a8" stroke="#1e2a36" stroke-width="1.3" />
<line x1="1648" y1="270" x2="1648" y2="537" stroke="#1e2a36" stroke-width="0.9" />
<line x1="1643" y1="268" x2="1648" y2="272" stroke="#1e2a36" stroke-width="0.8" />
<rect x="1540" y="587" width="3.5" height="11" fill="#eee9a8" stroke="#1e2a36" stroke-width="0.8" />
<ellipse cx="1541.5" cy="588" rx="1.8" ry="1.5" fill="#c9f5f7" stroke="#1e2a36" stroke-width="0.6" />
<rect x="1640" y="524" width="6" height="10" fill="#eee9a8" stroke="#1e2a36" stroke-width="0.8" />
<ellipse cx="1643" cy="525" rx="3" ry="2" fill="#c9f5f7" stroke="#1e2a36" stroke-width="0.7" />
<path d="M1559.5,585 L1560,604 L1567,609 L1579,602 L1580,593 L1578,586 Z" fill="#ebe19a" stroke="#1e2a36" stroke-width="1.1" />
<line x1="1567" y1="590" x2="1567" y2="609" stroke="#1e2a36" stroke-width="0.8" />
<path d="M1551,566 A44,24 0 0 0 1639,566 L1639,570 A44,26 0 0 1 1551,570 Z" fill="#e3d98c" stroke="#1e2a36" stroke-width="1.2" />
<path d="M1551,566 A44,24 0 1 0 1639,566 A44,24 0 1 0 1551,566 Z M1568,577 A27,15.5 0 1 1 1622,577 A27,15.5 0 1 1 1568,577 Z" fill="#f4e99c" stroke="#1e2a36" stroke-width="1.3" fill-rule="evenodd"/>
<path d="M1612,565 L1619,576 L1621,580 L1615,577 Z" fill="#e8dd8c" stroke="#1e2a36" stroke-width="0.8" />
<polyline points="1538,603 1538,612 1564,598" fill="none" stroke="#aaa" stroke-width="1" stroke-dasharray="11 6"/>
<polyline points="1644,536 1644,555 1634,561" fill="none" stroke="#aaa" stroke-width="1" stroke-dasharray="11 6"/>
<ellipse cx="1566.5" cy="635" rx="7" ry="4.5" fill="#e4e4e4" stroke="#1e2a36" stroke-width="1" />
<ellipse cx="1566.5" cy="635" rx="3" ry="2" fill="#f8f8f8" stroke="#1e2a36" stroke-width="0.7" />
<ellipse cx="1620" cy="608" rx="7" ry="4.5" fill="#e4e4e4" stroke="#1e2a36" stroke-width="1" />
<ellipse cx="1620" cy="608" rx="3" ry="2" fill="#f8f8f8" stroke="#1e2a36" stroke-width="0.7" />
<rect x="1563.0" y="652" width="7" height="18" fill="#dcdcdc" stroke="#1e2a36" stroke-width="1" />
<line x1="1563.0" y1="655" x2="1570.0" y2="653" stroke="#555" stroke-width="0.7" />
<line x1="1563.0" y1="660" x2="1570.0" y2="658" stroke="#555" stroke-width="0.7" />
<line x1="1563.0" y1="665" x2="1570.0" y2="663" stroke="#555" stroke-width="0.7" />
<line x1="1563.0" y1="670" x2="1570.0" y2="668" stroke="#555" stroke-width="0.7" />
<ellipse cx="1566.5" cy="672" rx="6" ry="4" fill="#cfcfcf" stroke="#1e2a36" stroke-width="1.1" />
<rect x="1617.5" y="624" width="7" height="19" fill="#dcdcdc" stroke="#1e2a36" stroke-width="1" />
<line x1="1617.5" y1="627" x2="1624.5" y2="625" stroke="#555" stroke-width="0.7" />
<line x1="1617.5" y1="632" x2="1624.5" y2="630" stroke="#555" stroke-width="0.7" />
<line x1="1617.5" y1="637" x2="1624.5" y2="635" stroke="#555" stroke-width="0.7" />
<line x1="1617.5" y1="642" x2="1624.5" y2="640" stroke="#555" stroke-width="0.7" />
<ellipse cx="1621" cy="645" rx="6" ry="4" fill="#cfcfcf" stroke="#1e2a36" stroke-width="1.1" />
<path d="M1543.1,666 L1543.1,956 A50.5,28.7 0 0 0 1644.1,956 L1644.1,666 Z" fill="#dad7cb" stroke="#1e2a36" stroke-width="1.4" />
<ellipse cx="1593.6" cy="666" rx="50.5" ry="28.7" fill="#f9f6dc" stroke="#1e2a36" stroke-width="1.4" />
<rect x="1563.0" y="652" width="7" height="18" fill="#dcdcdc" stroke="#1e2a36" stroke-width="1" />
<line x1="1563.0" y1="655" x2="1570.0" y2="653" stroke="#555" stroke-width="0.7" />
<line x1="1563.0" y1="660" x2="1570.0" y2="658" stroke="#555" stroke-width="0.7" />
<line x1="1563.0" y1="665" x2="1570.0" y2="663" stroke="#555" stroke-width="0.7" />
<line x1="1563.0" y1="670" x2="1570.0" y2="668" stroke="#555" stroke-width="0.7" />
<ellipse cx="1566.5" cy="672" rx="6" ry="4" fill="#cfcfcf" stroke="#1e2a36" stroke-width="1.1" />
<rect x="1617.5" y="624" width="7" height="19" fill="#dcdcdc" stroke="#1e2a36" stroke-width="1" />
<line x1="1617.5" y1="627" x2="1624.5" y2="625" stroke="#555" stroke-width="0.7" />
<line x1="1617.5" y1="632" x2="1624.5" y2="630" stroke="#555" stroke-width="0.7" />
<line x1="1617.5" y1="637" x2="1624.5" y2="635" stroke="#555" stroke-width="0.7" />
<line x1="1617.5" y1="642" x2="1624.5" y2="640" stroke="#555" stroke-width="0.7" />
<ellipse cx="1621" cy="645" rx="6" ry="4" fill="#cfcfcf" stroke="#1e2a36" stroke-width="1.1" />
<line x1="1596" y1="640" x2="1596" y2="980" stroke="#ffffff" stroke-width="1.4" stroke-opacity="0.85"/>
<line x1="1596" y1="240" x2="1596" y2="330" stroke="#ffffff" stroke-width="1.4" stroke-opacity="0.85"/>
<text transform="matrix(0.23301 0 0 0.21429 1703.07 808.79)" font-size="100" font-weight="normal" >55</text>
<polyline points="1648,800 1695,800" fill="none" stroke="#808080" stroke-width="0.9"/>
<path d="M1689.5,238 L1689.5,433 Q1689.5,437 1694.5,438 Q1689.5,439 1689.5,443 L1689.5,634" fill="none" stroke="#222" stroke-width="1.6" />
<text transform="matrix(0.23301 0 0 0.25352 1702.07 446.75)" font-size="100" font-weight="normal" >80</text>
<line x1="1662" y1="985" x2="1662" y2="1060" stroke="#bbb" stroke-width="1" />
<g transform="rotate(-28 1658 1054)">
<ellipse cx="1658" cy="1054" rx="22" ry="44" fill="#66a1ce" stroke="#1e2a36" stroke-width="1.3" />
</g>
<ellipse cx="1629" cy="1022" rx="4" ry="6" fill="#c9f5f7" stroke="#1e2a36" stroke-width="0.8" />
<ellipse cx="1668.6" cy="1045.6" rx="4" ry="6" fill="#c9f5f7" stroke="#1e2a36" stroke-width="0.8" />
<polygon points="1517,1060 1517,1080 1560,1100 1573,1140 1585,1162 1612,1180 1632,1180 1686,1146 1686,1133 1666,1108 1671,1062 1596,1016" fill="#66a1ce" stroke="#1e2a36" stroke-width="1.4" />
<path d="M1592,1150 L1600,1168 L1612,1172 L1680,1135" fill="none" stroke="#1e2a36" stroke-width="1" />
<line x1="1593" y1="1111" x2="1593" y2="1154" stroke="#1e2a36" stroke-width="1" />
<line x1="1621.6" y1="1098" x2="1621.6" y2="1148" stroke="#1e2a36" stroke-width="1" />
<line x1="1649.8" y1="1076" x2="1649.8" y2="1138" stroke="#1e2a36" stroke-width="1" />
<ellipse cx="1612.9" cy="1163.8" rx="6" ry="3.5" fill="#c9f5f7" stroke="#1e2a36" stroke-width="0.9" />
<ellipse cx="1673.3" cy="1129.6" rx="6" ry="3.5" fill="#c9f5f7" stroke="#1e2a36" stroke-width="0.9" />
<ellipse cx="1639" cy="1115" rx="10" ry="14" fill="#5b98c8" stroke="#1e2a36" stroke-width="1.1" transform="rotate(20 1639 1115)"/>
<ellipse cx="1640" cy="1117" rx="7" ry="10" fill="#c9f5f7" stroke="#1e2a36" stroke-width="0.9" transform="rotate(20 1640 1117)"/>
<polygon points="1517,1059 1540,1042 1568,1028 1595,1016 1671,1062 1596,1105 1517,1070" fill="#e4e4e4" stroke="#1e2a36" stroke-width="1.3" />
<ellipse cx="1595" cy="1062.5" rx="51.3" ry="28.9" fill="#fbf9e2" stroke="#1e2a36" stroke-width="1.3" />
<ellipse cx="1595" cy="1058" rx="45" ry="22" fill="none" stroke="#1e2a36" stroke-width="0.8" />
<ellipse cx="1594.7" cy="1068.5" rx="29.6" ry="17.5" fill="#f2f0dc" stroke="#1e2a36" stroke-width="1.0" />
<ellipse cx="1594.7" cy="1069.5" rx="25" ry="14" fill="#e2e2e2" stroke="#1e2a36" stroke-width="1.2" />
<ellipse cx="1526" cy="1061" rx="6" ry="3.5" fill="#c9f5f7" stroke="#1e2a36" stroke-width="0.9" />
<ellipse cx="1594.7" cy="1021.5" rx="6" ry="3.5" fill="#c9f5f7" stroke="#1e2a36" stroke-width="0.9" />
<ellipse cx="1662.5" cy="1061" rx="6" ry="3.5" fill="#c9f5f7" stroke="#1e2a36" stroke-width="0.9" />
<ellipse cx="1594" cy="1099.4" rx="6" ry="3.5" fill="#c9f5f7" stroke="#1e2a36" stroke-width="0.9" />
<ellipse cx="1508" cy="1108" rx="6" ry="12" fill="#66a1ce" stroke="#1e2a36" stroke-width="1.1" />
<g transform="rotate(-25 1538 1118)">
<ellipse cx="1543" cy="1114" rx="32" ry="42" fill="#66a1ce" stroke="#1e2a36" stroke-width="1.2" />
<ellipse cx="1538" cy="1118" rx="32" ry="41" fill="#e6e6e6" stroke="#1e2a36" stroke-width="1.3" />
<ellipse cx="1536" cy="1120" rx="23" ry="29" fill="none" stroke="#1e2a36" stroke-width="1.0" />
<ellipse cx="1534.3" cy="1121" rx="11" ry="15" fill="#c9f5f7" stroke="#1e2a36" stroke-width="1.0" />
</g>
<ellipse cx="1517.5" cy="1086" rx="3" ry="4" fill="#c9f5f7" stroke="#1e2a36" stroke-width="0.8" />
<ellipse cx="1557" cy="1109.4" rx="3" ry="4" fill="#c9f5f7" stroke="#1e2a36" stroke-width="0.8" />
<ellipse cx="1518" cy="1131.6" rx="3" ry="4" fill="#c9f5f7" stroke="#1e2a36" stroke-width="0.8" />
<ellipse cx="1556.5" cy="1152.4" rx="3" ry="4" fill="#c9f5f7" stroke="#1e2a36" stroke-width="0.8" />
<text transform="matrix(0.25000 0 0 0.22535 1458.75 1076.77)" font-size="100" font-weight="normal" >6</text>
<polyline points="1476,1072.5 1514,1074.4" fill="none" stroke="#808080" stroke-width="0.9"/>
<ellipse cx="1596" cy="1027" rx="53" ry="30.5" fill="none" stroke="#f0a132" stroke-width="3.2" transform="rotate(5 1596 1027)"/>
<ellipse cx="1596" cy="1027" rx="54.8" ry="32.3" fill="none" stroke="#2a2010" stroke-width="0.9" transform="rotate(5 1596 1027)"/>
<ellipse cx="1596" cy="1027" rx="51.2" ry="28.7" fill="none" stroke="#2a2010" stroke-width="0.9" transform="rotate(5 1596 1027)"/>
<line x1="1596" y1="985" x2="1596" y2="1090" stroke="#ffffff" stroke-width="1.4" stroke-opacity="0.8"/>
<text transform="matrix(0.23529 0 0 0.22535 1460.06 1028.77)" font-size="100" font-weight="normal" >37</text>
<polyline points="1487.5,1021.4 1537,1025.6" fill="none" stroke="#808080" stroke-width="0.9"/>
<line x1="1639" y1="1113" x2="1684" y2="1140" stroke="#ffffff" stroke-width="2" />
<ellipse cx="1686" cy="1143.4" rx="3.5" ry="5" fill="#f4f4f4" stroke="#1e2a36" stroke-width="1.0" transform="rotate(20 1686 1143.4)"/>
<path d="M1708,1147 A6,8 20 1 0 1710,1158" fill="none" stroke="#8a6a30" stroke-width="2.2" />
<polyline points="1690,1145 1720,1160" fill="none" stroke="#aaa" stroke-width="1" stroke-dasharray="11 6"/>
<g transform="rotate(27 1728 1166)">
<rect x="1712" y="1162" width="24" height="8" fill="#f6f2d0" stroke="#1e2a36" stroke-width="1.1" />
</g>
<ellipse cx="1740" cy="1174" rx="8" ry="11" fill="#9c9c9c" stroke="#1e2a36" stroke-width="1.1" transform="rotate(-30 1740 1174)"/>
<ellipse cx="1745" cy="1177" rx="9" ry="12" fill="#c8c8c8" stroke="#1e2a36" stroke-width="1.2" transform="rotate(-30 1745 1177)"/>
<text transform="matrix(0.22549 0 0 0.21127 1706.10 1094.79)" font-size="100" font-weight="normal" >39</text>
<polyline points="1713.6,1099.7 1692.7,1138.7" fill="none" stroke="#808080" stroke-width="0.9"/>
<text transform="matrix(0.22330 0 0 0.21127 1741.11 1112.79)" font-size="100" font-weight="normal" >38</text>
<polyline points="1740,1116 1710,1147" fill="none" stroke="#808080" stroke-width="0.9"/>
<text transform="matrix(0.23529 0 0 0.22535 1774.82 1131.77)" font-size="100" font-weight="normal" >25</text>
<polyline points="1776,1136 1744,1164" fill="none" stroke="#808080" stroke-width="0.9"/>
</svg>
</body></html>
